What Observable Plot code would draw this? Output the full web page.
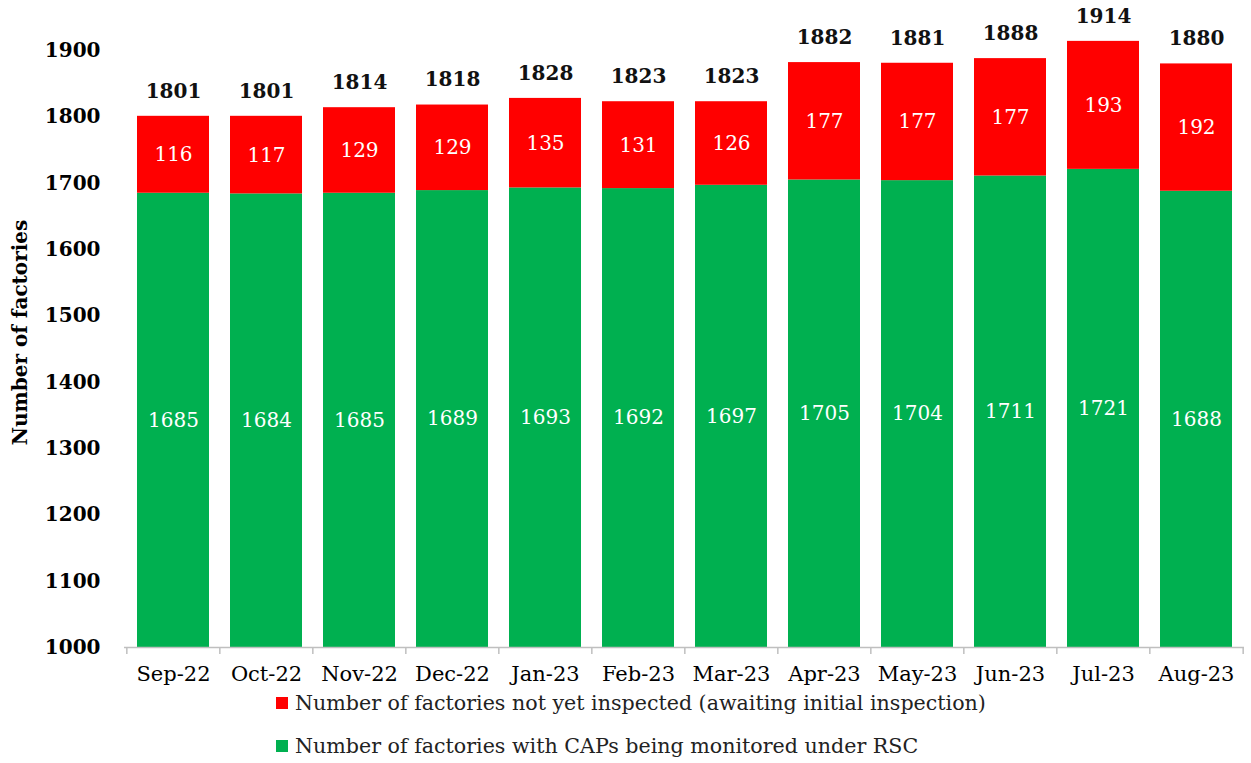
<!DOCTYPE html>
<html>
<head>
<meta charset="utf-8">
<script src="https://cdn.jsdelivr.net/npm/d3@7"></script>
<script src="https://cdn.jsdelivr.net/npm/@observablehq/plot@0.6"></script>
<style>
  html, body { margin: 0; padding: 0; background: #fff; }
  body { width: 1251px; height: 763px; position: relative; overflow: hidden; font-family: "DejaVu Serif", serif; }
  #legend { position: absolute; left: 0; top: 0; width: 1251px; }
  .lg-row { position: absolute; left: 276px; height: 30px; display: flex; align-items: center; font-size: 20.6px; color: #222; white-space: nowrap; }
  .lg-sw { width: 12px; height: 12px; margin-right: 7px; flex: none; }
</style>
</head>
<body>
<div id="chart"></div>
<div id="legend"></div>
<script>
const months = ["Sep-22","Oct-22","Nov-22","Dec-22","Jan-23","Feb-23","Mar-23","Apr-23","May-23","Jun-23","Jul-23","Aug-23"];
const monitored = [1685,1684,1685,1689,1693,1692,1697,1705,1704,1711,1721,1688];
const notInspected = [116,117,129,129,135,131,126,177,177,177,193,192];
const totals = [1801,1801,1814,1818,1828,1823,1823,1882,1881,1888,1914,1880];
const yTicks = [1000,1100,1200,1300,1400,1500,1600,1700,1800,1900];
const seriesNames = [
  "Number of factories not yet inspected (awaiting initial inspection)",
  "Number of factories with CAPs being monitored under RSC"
];
const seriesColors = ["#FF0000", "#00B050"];

const rows = months.map((m, i) => ({month: m, monitored: monitored[i], notInspected: notInspected[i], total: totals[i]}));

const W = 1251, H = 690;
const mL = 124, mR = 7, mT = 17, mB = 43;
const yMin = 1000, yMax = 1950;
const step = (W - mL - mR) / months.length;
const tickLen = 7 * (yMax - yMin) / (H - mT - mB);

const chart = Plot.plot({
  width: W, height: H,
  marginLeft: mL, marginRight: mR, marginTop: mT, marginBottom: mB,
  style: {fontFamily: "DejaVu Serif, serif", fontSize: "20px", color: "#000", background: "#fff", overflow: "visible"},
  x: {domain: months, paddingInner: 0.228, paddingOuter: 0.114, label: null},
  y: {domain: [yMin, yMax], label: null},
  marks: [
    Plot.barY(rows, {x: "month", y1: yMin, y2: "monitored", fill: seriesColors[1]}),
    Plot.barY(rows, {x: "month", y1: "monitored", y2: "total", fill: seriesColors[0]}),
    Plot.text(rows, {x: "month", y: d => (yMin + d.monitored) / 2, text: d => String(d.monitored), fill: "white", fontSize: 20}),
    Plot.text(rows, {x: "month", y: d => (d.monitored + d.total) / 2, text: d => String(d.notInspected), fill: "white", fontSize: 20}),
    Plot.text(rows, {x: "month", y: "total", text: d => String(d.total), dy: -25, fill: "#111", fontWeight: "bold", fontSize: 20}),
    Plot.ruleY([yMin], {stroke: "#bfbfbf", strokeWidth: 1.5}),
    Plot.ruleX(months, {x: d => d, dx: -step / 2, y1: yMin, y2: yMin - tickLen, stroke: "#bfbfbf", strokeWidth: 1.5}),
    Plot.ruleX([months[months.length - 1]], {x: d => d, dx: step / 2, y1: yMin, y2: yMin - tickLen, stroke: "#bfbfbf", strokeWidth: 1.5}),
    Plot.axisY({ticks: yTicks, tickSize: 0, tickPadding: 24, fontWeight: "bold", fontSize: 20, tickFormat: d => String(d), label: null}),
    Plot.axisX({tickSize: 0, tickPadding: 19, fontSize: 21, label: null}),
    Plot.text(["Number of factories"], {frameAnchor: "left", textAnchor: "middle", rotate: -90, dx: -104, text: d => d, fontWeight: "bold", fontSize: 20, fill: "#000"})
  ]
});
document.getElementById("chart").appendChild(chart);

const legend = document.getElementById("legend");
const legendCenters = [703, 746];
seriesNames.forEach((name, i) => {
  const row = document.createElement("div");
  row.className = "lg-row";
  row.style.top = (legendCenters[i] - 15) + "px";
  const sw = document.createElement("span");
  sw.className = "lg-sw";
  sw.style.background = seriesColors[i];
  row.appendChild(sw);
  row.appendChild(document.createTextNode(name));
  legend.appendChild(row);
});
</script>
</body>
</html>
